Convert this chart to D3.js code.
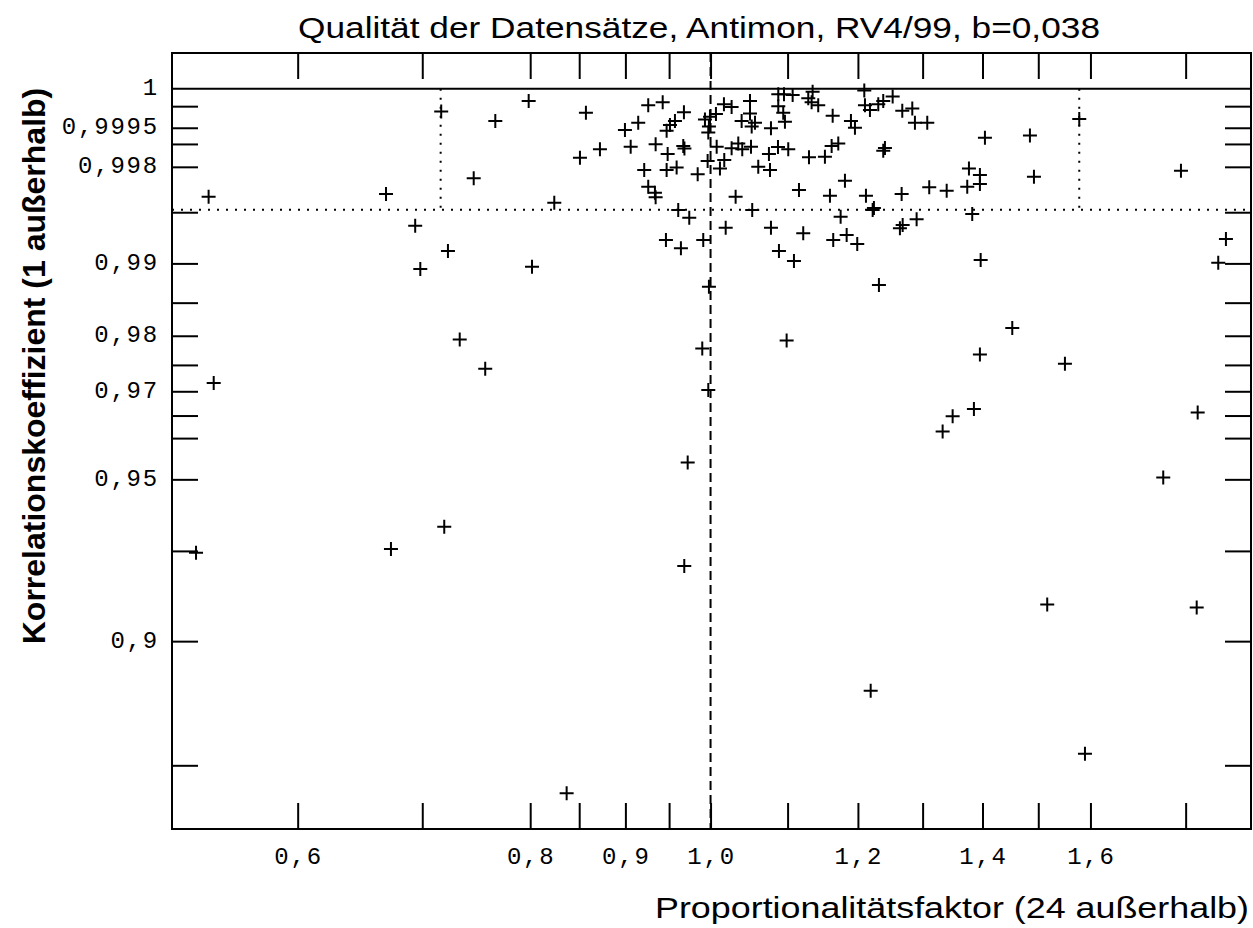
<!DOCTYPE html>
<html>
<head>
<meta charset="utf-8">
<script src="https://cdn.jsdelivr.net/npm/d3@7/dist/d3.min.js"></script>
<style>
  body { margin: 0; background: #fff; }
  svg { display: block; }
  .tickLabel { font-family: "Liberation Mono", "DejaVu Sans Mono", monospace; font-size: 24px; letter-spacing: 1.8px; fill: #000; }
</style>
</head>
<body>
<div id="graphic"></div>
<script>
// Proportionalitätsfaktor (x) und Korrelationskoeffizient (y) je Datensatz
var prop = [
	0.5374, 0.6693, 0.7166, 0.7662, 0.7985, 0.7460, 0.8242, 0.6939, 0.7226, 0.6983, 0.8018,
	0.8571, 0.9258, 0.9425, 0.9676, 0.9569, 0.9510, 0.9471, 0.9144, 0.8995, 0.9931, 0.9993,
	1.0067, 0.9980, 0.9972, 1.0167, 1.0264, 1.0500, 1.0500, 1.0392, 1.0565, 1.0522, 1.0776,
	0.8721, 0.8508, 0.9059, 0.9343, 0.9483, 0.9668, 0.9682, 1.0076, 0.9964, 1.0171, 1.0264,
	1.0349, 1.0400, 1.0513, 1.0749, 1.0870, 0.9212, 0.9471, 0.9589, 0.9842, 1.0117, 1.0608,
	1.0763, 0.9258, 0.9335, 0.9343, 1.0315, 0.9608, 0.9740, 1.0529, 1.0189, 1.0776, 0.9463,
	0.9640, 0.9910, 1.0883,
	1.0874, 1.0951, 1.1069, 1.1346, 1.1285, 1.1332, 1.1425, 1.2095, 1.2105, 1.2180, 1.2306,
	1.2382, 1.2527, 1.0874, 1.0941, 1.1631, 1.1897, 1.1956, 1.0964, 1.2677, 1.2835, 1.2877,
	1.3075, 1.4042, 1.1009, 1.1295, 1.1520, 1.1616, 1.1712, 1.2382, 1.2408, 1.1156, 1.1592,
	1.1809, 1.2120, 1.2667, 1.3107, 1.3393, 1.3767, 1.3955, 1.3738, 1.3955, 1.2221, 1.2240,
	1.1746, 1.2904, 1.2683, 1.2640, 1.3823, 1.1215, 1.1639, 1.1834, 1.1990, 1.1087, 1.3968,
	1.5780, 1.4846, 1.4920, 1.7896, 1.8920, 1.8741,
	0.7332, 0.7567, 0.5408, 0.5291, 0.6734, 0.7193, 0.9980, 1.2316, 0.9898, 1.0987, 0.9972,
	0.9721, 0.9680, 1.2191, 0.8369, 1.4525, 1.3955, 1.5503, 1.3852, 1.3492, 1.3326, 1.8270,
	1.7508, 1.5167, 1.8248, 1.5892
];
var korr = [
	0.99618, 0.99637, 0.99983, 0.99966, 0.99995, 0.99737, 0.99574, 0.99385, 0.99137, 0.98935, 0.98962,
	0.99981, 0.99991, 0.99994, 0.99982, 0.99966, 0.99957, 0.99942, 0.99962, 0.99944, 0.99969, 0.99974,
	0.99979, 0.99953, 0.99937, 0.99992, 0.99989, 0.99995, 0.99980, 0.99966, 0.99962, 0.99953, 0.99949,
	0.99880, 0.99844, 0.99890, 0.99899, 0.99860, 0.99892, 0.99883, 0.99890, 0.99829, 0.99833, 0.99884,
	0.99902, 0.99880, 0.99890, 0.99860, 0.99889, 0.99783, 0.99783, 0.99796, 0.99760, 0.99792, 0.99801,
	0.99783, 0.99685, 0.99646, 0.99614, 0.99618, 0.99518, 0.99455, 0.99518, 0.99367, 0.99367, 0.99250,
	0.99165, 0.99250, 0.99137,
	0.99999, 0.99999, 0.999987, 0.999997, 0.99997, 0.99994, 0.99991, 0.999999, 0.99991, 0.99985, 0.99992,
	0.99995, 0.99998, 0.99990, 0.99981, 0.99976, 0.99966, 0.99950, 0.99964, 0.99984, 0.99987, 0.99962,
	0.99962, 0.99921, 0.99880, 0.99846, 0.99848, 0.99892, 0.99902, 0.99874, 0.99885, 0.99664, 0.99625,
	0.99723, 0.99625, 0.99637, 0.99681, 0.99659, 0.99792, 0.99756, 0.99685, 0.99702, 0.99518, 0.99534,
	0.99463, 0.99441, 0.99391, 0.99361, 0.99486, 0.99315, 0.99250, 0.99299, 0.99210, 0.99027, 0.99039,
	0.99970, 0.99928, 0.99746, 0.99780, 0.99260, 0.99008,
	0.97939, 0.97429, 0.97162, 0.92946, 0.93055, 0.93714, 0.98714, 0.98737, 0.97790, 0.97921, 0.97024,
	0.95422, 0.92538, 0.88126, 0.83733, 0.98122, 0.97685, 0.97520, 0.96638, 0.96486, 0.96150, 0.96563,
	0.95047, 0.91286, 0.91177, 0.85506
];

// Achsen-Teilung
var xTicks = [0.6, 0.7, 0.8, 0.85, 0.9, 0.95, 1.0, 1.1, 1.2, 1.3, 1.4, 1.5, 1.6, 1.8];
var xLabels = [0.6, 0.8, 0.9, 1.0, 1.2, 1.4, 1.6];
var yTicks = [0.9999, 0.9995, 0.999, 0.998, 0.995, 0.99, 0.985, 0.98, 0.975, 0.97, 0.965, 0.96, 0.95, 0.93, 0.9, 0.85];
var yLabels = [1, 0.9995, 0.998, 0.99, 0.98, 0.97, 0.95, 0.9];

// Grenzen (gepunktet)
var xLimits = [0.7161, 1.578];
var rLimit = 0.9952;

var width = 1253, height = 928;
var plotLeft = 172, plotRight = 1251, plotTop = 53, plotBottom = 829;
var tickLen = 26;

var svg = d3.select("#graphic").append("svg")
	.attr("width", width)
	.attr("height", height);

svg.append("rect").attr("width", width).attr("height", height).attr("fill", "#fff");

var x = d3.scaleLog()
	.domain([0.5136, 1.9516])
	.range([plotLeft, plotRight]);

// y: Wurzel aus (1 - r), r = 1 liegt etwas unterhalb der oberen Kante
var y = d3.scalePow().exponent(0.5)
	.domain([-0.0004176, 0.17957])
	.range([plotTop, plotBottom]);

function yr(r) { return y(1 - r); }

function fmtY(v) {
	return v === 1 ? "1" : String(v).replace(".", ",");
}
function fmtX(v) {
	return v.toFixed(1).replace(".", ",");
}

var features = svg.append("g");

// Rahmen
features.append("rect")
	.attr("x", plotLeft).attr("y", plotTop)
	.attr("width", plotRight - plotLeft).attr("height", plotBottom - plotTop)
	.attr("fill", "none")
	.attr("stroke", "#000")
	.attr("stroke-width", 2);

// Linie bei r = 1
features.append("line")
	.attr("x1", plotLeft).attr("x2", plotRight)
	.attr("y1", yr(1)).attr("y2", yr(1))
	.attr("stroke", "#000").attr("stroke-width", 2);

// Striche innen, alle vier Seiten
var yTickVals = yTicks.map(function(r) { return 1 - r; });
features.append("g").attr("transform", "translate(" + plotLeft + ",0)")
	.call(d3.axisLeft(y).tickValues(yTickVals).tickSize(-tickLen).tickFormat(""));
features.append("g").attr("transform", "translate(" + plotRight + ",0)")
	.call(d3.axisRight(y).tickValues(yTickVals).tickSize(-tickLen).tickFormat(""));
features.append("g").attr("transform", "translate(0," + plotTop + ")")
	.call(d3.axisTop(x).tickValues(xTicks).tickSize(-tickLen).tickFormat(""));
features.append("g").attr("transform", "translate(0," + plotBottom + ")")
	.call(d3.axisBottom(x).tickValues(xTicks).tickSize(-tickLen).tickFormat(""));

features.selectAll(".domain").remove();
features.selectAll(".tick line").attr("stroke", "#000").attr("stroke-width", 2);

// Beschriftungen
svg.selectAll(".yLab")
	.data(yLabels)
	.enter().append("text")
	.attr("class", "tickLabel yLab")
	.attr("x", 159)
	.attr("y", function(d) { return yr(d); })
	.attr("text-anchor", "end")
	.attr("dominant-baseline", "central")
	.text(function(d) { return fmtY(d); });

svg.selectAll(".xLab")
	.data(xLabels)
	.enter().append("text")
	.attr("class", "tickLabel xLab")
	.attr("x", function(d) { return x(d) + 1; })
	.attr("y", 857)
	.attr("text-anchor", "middle")
	.attr("dominant-baseline", "central")
	.text(function(d) { return fmtX(d); });

// gestrichelt bei Faktor 1
features.append("line")
	.attr("x1", x(1)).attr("x2", x(1))
	.attr("y1", plotTop).attr("y2", plotBottom)
	.attr("stroke", "#000").attr("stroke-width", 2)
	.attr("stroke-dasharray", "9,5");

// gepunktete Grenzen
features.append("line")
	.attr("x1", plotLeft).attr("x2", plotRight)
	.attr("y1", yr(rLimit)).attr("y2", yr(rLimit))
	.attr("stroke", "#000").attr("stroke-width", 2)
	.attr("stroke-dasharray", "2,7");

features.selectAll(".vlim")
	.data(xLimits)
	.enter().append("line")
	.attr("class", "vlim")
	.attr("x1", function(d) { return x(d); })
	.attr("x2", function(d) { return x(d); })
	.attr("y1", yr(1)).attr("y2", yr(rLimit))
	.attr("stroke", "#000").attr("stroke-width", 2)
	.attr("stroke-dasharray", "2,7");

// Punkte als Kreuze
var pts = prop.map(function(p, i) { return {p: p, r: korr[i]}; });

features.selectAll(".pt")
	.data(pts)
	.enter().append("path")
	.attr("class", "pt")
	.attr("transform", function(d) { return "translate(" + x(d.p) + "," + yr(d.r) + ")"; })
	.attr("d", "M-7,0H7M0,-7V7")
	.attr("stroke", "#000")
	.attr("stroke-width", 2)
	.attr("fill", "none");

// Titel und Achsentitel
svg.append("text")
	.attr("x", 298).attr("y", 38)
	.attr("textLength", 802)
	.attr("lengthAdjust", "spacingAndGlyphs")
	.style("font-family", "'Liberation Sans', Arial, sans-serif")
	.style("font-size", "30px")
	.text("Qualität der Datensätze, Antimon, RV4/99, b=0,038");

svg.append("text")
	.attr("transform", "translate(45,366) rotate(-90)")
	.attr("text-anchor", "middle")
	.style("font-family", "'Liberation Sans', Arial, sans-serif")
	.style("font-size", "32px")
	.style("font-weight", "bold")
	.text("Korrelationskoeffizient (1 außerhalb)");

svg.append("text")
	.attr("x", 655).attr("y", 918)
	.attr("textLength", 594)
	.attr("lengthAdjust", "spacingAndGlyphs")
	.style("font-family", "'Liberation Sans', Arial, sans-serif")
	.style("font-size", "30px")
	.text("Proportionalitätsfaktor (24 außerhalb)");
</script>
</body>
</html>
